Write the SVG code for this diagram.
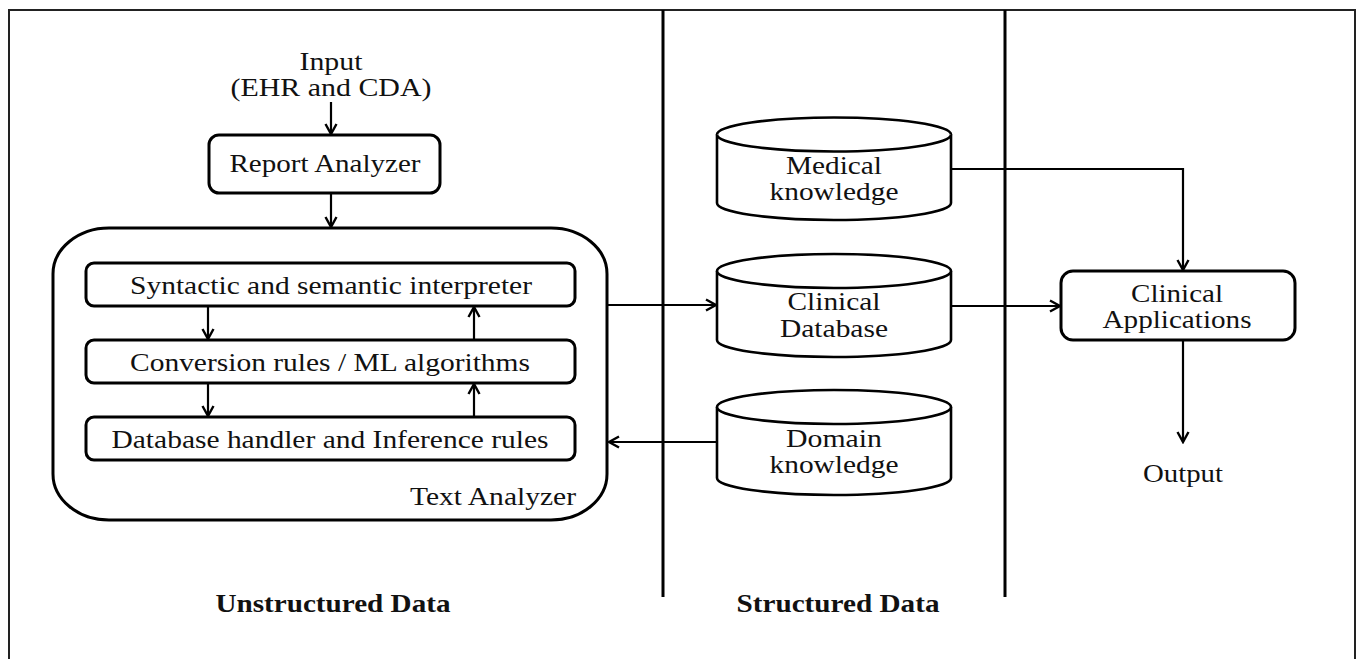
<svg xmlns="http://www.w3.org/2000/svg" width="1356" height="659" viewBox="0 0 1356 659">
<style>
  .box { fill: #fff; stroke: #000; stroke-width: 3; }
  .cyl { fill: #fff; stroke: #000; stroke-width: 2.6; }
  .t { font-family: "Liberation Serif", "Times New Roman", serif; font-size: 25px; fill: #111; text-anchor: middle; }
  .h { font-family: "Liberation Serif", "Times New Roman", serif; font-size: 25px; font-weight: bold; fill: #111; text-anchor: middle; }
  .conn { fill: none; stroke: #000; stroke-width: 2.2; }
  .div { stroke: #000; stroke-width: 3; }
</style>
<defs>
  <marker id="arr" markerUnits="userSpaceOnUse" markerWidth="14" markerHeight="14" viewBox="0 0 14 14" refX="12" refY="7" orient="auto">
    <path d="M2,1.5 L12,7 L2,12.5" fill="none" stroke="#000" stroke-width="2.4"/>
  </marker>
</defs>
<rect width="1356" height="659" fill="#fff"/>
<path d="M9,659 L9,10 L1355,10 L1355,659" fill="none" stroke="#222" stroke-width="2"/>
<g id="dividers">
  <line class="div" x1="663" y1="10" x2="663" y2="597"/>
  <line class="div" x1="1005" y1="10" x2="1005" y2="597"/>
</g>
<g id="input">
  <text class="t" x="331" y="70" textLength="63" lengthAdjust="spacingAndGlyphs">Input</text>
  <text class="t" x="331" y="96" textLength="201" lengthAdjust="spacingAndGlyphs">(EHR and CDA)</text>
</g>
<g id="report-analyzer">
  <rect class="box" x="209" y="135" width="231" height="58" rx="10"/>
  <text class="t" x="325" y="172" textLength="191" lengthAdjust="spacingAndGlyphs">Report Analyzer</text>
</g>
<g id="text-analyzer">
  <rect class="box" x="53" y="228" width="554" height="292" rx="56" ry="46"/>
  <text class="t" x="493" y="505" textLength="166" lengthAdjust="spacingAndGlyphs">Text Analyzer</text>
</g>
<g id="interpreter">
  <rect class="box" x="86" y="263" width="489" height="43" rx="8"/>
  <text class="t" x="331" y="294" textLength="402" lengthAdjust="spacingAndGlyphs">Syntactic and semantic interpreter</text>
</g>
<g id="conversion">
  <rect class="box" x="86" y="340" width="489" height="43" rx="8"/>
  <text class="t" x="330" y="371" textLength="400" lengthAdjust="spacingAndGlyphs">Conversion rules / ML algorithms</text>
</g>
<g id="database-handler">
  <rect class="box" x="86" y="417" width="489" height="43" rx="8"/>
  <text class="t" x="330" y="448" textLength="437" lengthAdjust="spacingAndGlyphs">Database handler and Inference rules</text>
</g>
<g id="medical-knowledge">
  <path class="cyl" d="M717,134.5 L717,203 A117,17 0 0 0 951,203 L951,134.5 A117,17 0 0 0 717,134.5 Z"/>
  <path class="cyl" d="M717,134.5 A117,17 0 0 0 951,134.5" fill="none"/>
  <text class="t" x="834" y="174" textLength="96" lengthAdjust="spacingAndGlyphs">Medical</text>
  <text class="t" x="834" y="200" textLength="129" lengthAdjust="spacingAndGlyphs">knowledge</text>
</g>
<g id="clinical-database">
  <path class="cyl" d="M717,271 L717,340 A117,17 0 0 0 951,340 L951,271 A117,17 0 0 0 717,271 Z"/>
  <path class="cyl" d="M717,271 A117,17 0 0 0 951,271" fill="none"/>
  <text class="t" x="834" y="310" textLength="93" lengthAdjust="spacingAndGlyphs">Clinical</text>
  <text class="t" x="834" y="337" textLength="108" lengthAdjust="spacingAndGlyphs">Database</text>
</g>
<g id="domain-knowledge">
  <path class="cyl" d="M717,407 L717,478 A117,17 0 0 0 951,478 L951,407 A117,17 0 0 0 717,407 Z"/>
  <path class="cyl" d="M717,407 A117,17 0 0 0 951,407" fill="none"/>
  <text class="t" x="834" y="447" textLength="96" lengthAdjust="spacingAndGlyphs">Domain</text>
  <text class="t" x="834" y="473" textLength="129" lengthAdjust="spacingAndGlyphs">knowledge</text>
</g>
<g id="clinical-applications">
  <rect class="box" x="1061" y="271" width="234" height="69" rx="12"/>
  <text class="t" x="1177" y="302" textLength="92" lengthAdjust="spacingAndGlyphs">Clinical</text>
  <text class="t" x="1177" y="328" textLength="149" lengthAdjust="spacingAndGlyphs">Applications</text>
</g>
<g id="output">
  <text class="t" x="1183" y="482" textLength="80" lengthAdjust="spacingAndGlyphs">Output</text>
</g>
<g id="section-labels">
  <text class="h" x="333" y="612" textLength="235" lengthAdjust="spacingAndGlyphs">Unstructured Data</text>
  <text class="h" x="838" y="612" textLength="203" lengthAdjust="spacingAndGlyphs">Structured Data</text>
</g>
<g id="connectors">
  <path class="conn" d="M331,102 L331,134" marker-end="url(#arr)"/>
  <path class="conn" d="M331,194 L331,227" marker-end="url(#arr)"/>
  <path class="conn" d="M208,307 L208,339" marker-end="url(#arr)"/>
  <path class="conn" d="M208,384 L208,416" marker-end="url(#arr)"/>
  <path class="conn" d="M474,339 L474,307" marker-end="url(#arr)"/>
  <path class="conn" d="M474,416 L474,384" marker-end="url(#arr)"/>
  <path class="conn" d="M608,305 L716,305" marker-end="url(#arr)"/>
  <path class="conn" d="M717,442 L609,442" marker-end="url(#arr)"/>
  <path class="conn" d="M952,169 L1183,169 L1183,270" marker-end="url(#arr)"/>
  <path class="conn" d="M952,306 L1060,306" marker-end="url(#arr)"/>
  <path class="conn" d="M1183,341 L1183,442" marker-end="url(#arr)"/>
</g>
</svg>
